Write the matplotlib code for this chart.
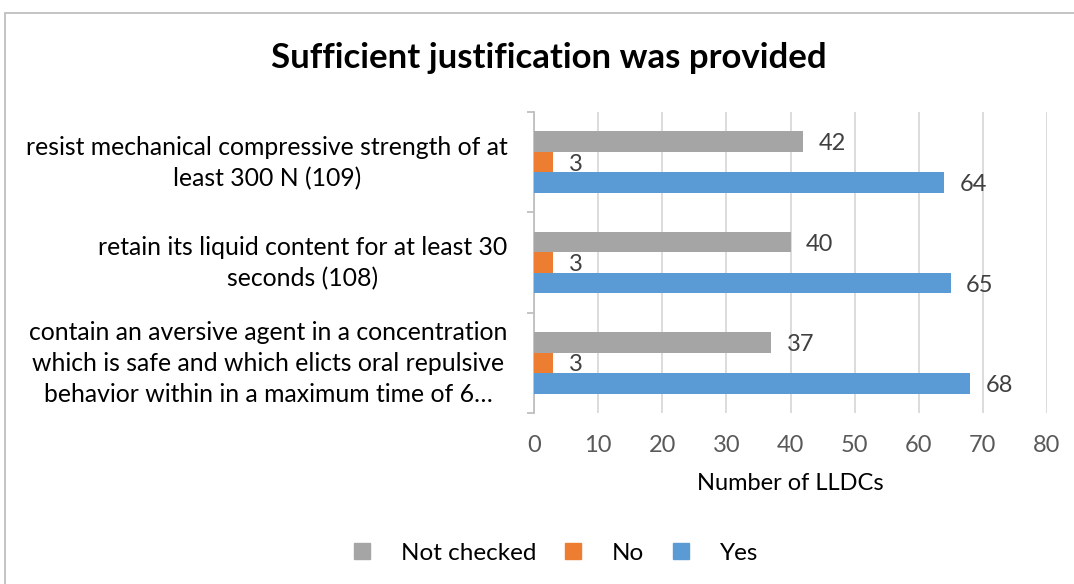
import matplotlib
matplotlib.use("Agg")
import matplotlib.pyplot as plt
from matplotlib.lines import Line2D
from matplotlib.patches import Rectangle
import numpy as np

categories = [
    "contain an aversive agent in a concentration\nwhich is safe and which elicts oral repulsive\nbehavior within in a maximum time of 6…",
    "retain its liquid content for at least 30\nseconds (108)",
    "resist mechanical compressive strength of at\nleast 300 N (109)",
]
series_names = ["Not checked", "No", "Yes"]
not_checked = [37, 40, 42]
no_vals = [3, 3, 3]
yes_vals = [68, 65, 64]
x_ticks = [0, 10, 20, 30, 40, 50, 60, 70, 80]

colors = {"Not checked": "#a5a5a5", "No": "#ed7d31", "Yes": "#5b9bd5"}
FONT = "Lato"
plt.rcParams["font.family"] = [FONT, "DejaVu Sans"]

fig = plt.figure(figsize=(10.74, 5.84), dpi=100)
fig.patches.append(Rectangle((4.5/1074, -0.1), 1.2, 1 - 12.5/584 + 0.1, transform=fig.transFigure,
                             fill=False, edgecolor="#bfbfbf", linewidth=1.3))

ax = fig.add_axes([534/1074, 1 - 413/584, (1047 - 534)/1074, (413 - 112)/584])

y = np.arange(len(categories))
h = 0.204
series = [(not_checked, "Not checked", h), (no_vals, "No", 0.0), (yes_vals, "Yes", -h)]
for vals, name, off in series:
    bars = ax.barh(y + off, vals, height=h, color=colors[name], zorder=3)
    for b, v in zip(bars, vals):
        ax.annotate(str(v), xy=(v, b.get_y() + h/2), xytext=(11, -1.5), textcoords="offset points",
                    va="center", ha="left", fontsize=17, color="#404040")

ax.set_xlim(0, 80)
ax.set_ylim(-0.5, 2.5)
ax.set_xticks(x_ticks)
ax.set_xticklabels([str(t) for t in x_ticks], fontsize=17, color="#595959")
ax.tick_params(axis="x", length=0, pad=16)
ax.grid(axis="x", color="#d9d9d9", linewidth=1.3, zorder=0)
# label anchor nudged slightly up within each category band
ax.set_yticks(y + 0.05)
ax.set_yticklabels(categories, fontsize=17.8, color="#000000", ha="right", multialignment="center",
                   linespacing=1.42)
ax.tick_params(axis="y", length=0, pad=19)
ax.set_yticks([-0.5, 0.5, 1.5, 2.5], minor=True)
ax.tick_params(axis="y", which="minor", length=5, color="#bfbfbf", width=1.3, direction="out")
for s in ["top", "right", "bottom"]:
    ax.spines[s].set_visible(False)
ax.spines["left"].set_color("#bfbfbf")
ax.spines["left"].set_linewidth(1.3)

ax.set_xlabel("Number of LLDCs", fontsize=17, color="#000000", labelpad=12)

fig.text(549/1074, 1 - 58/584, "Sufficient justification was provided", ha="center", va="center",
         fontsize=25, fontweight="bold")

handles = [Line2D([], [], marker="s", linestyle="none", markersize=11.5, color=colors[n]) for n in series_names]
fig.legend(handles, series_names, loc="center", bbox_to_anchor=(554/1074, 1 - 553/584), ncol=3,
           frameon=False, fontsize=17.5, handletextpad=1.1, columnspacing=1.0, handlelength=1.0)

fig.savefig("out.png", dpi=100)
